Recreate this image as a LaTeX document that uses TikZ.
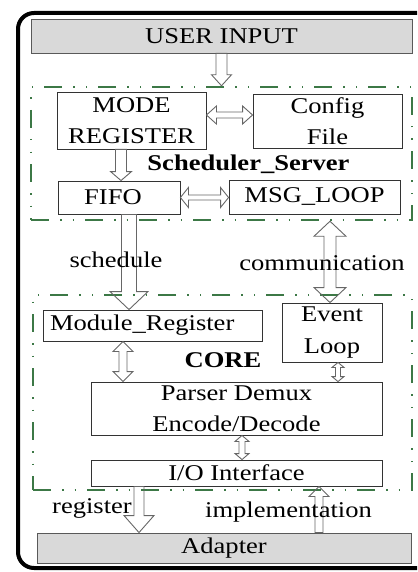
\documentclass[tikz,border=0pt]{standalone}
\usepackage{fontspec}
\setmainfont{Liberation Serif}[FakeStretch=1.18]
\usetikzlibrary{calc}
\definecolor{dgreen}{HTML}{3C7846}
\definecolor{boxgray}{HTML}{D9D9D9}
\newcommand{\dfont}{\fontsize{22.5}{31.5}\selectfont}
\tikzset{
  box/.style={draw=black!80, line width=0.9pt, fill=white, inner sep=0pt, align=center, font=\dfont, text=black},
  graybox/.style={box, fill=boxgray, draw=black!65},
  grp/.style={draw=dgreen, line width=2.5pt, inner sep=0pt,
    dash pattern=on 18pt off 11pt on 1.5pt off 11pt on 1.5pt off 11pt},
  blk/.style={draw=black!60, line width=0.9pt, line join=miter},
  lbl/.style={inner sep=0pt, font=\dfont, anchor=base, text=black},
  frame/.style={draw=black, line width=4pt, rounded corners=16pt},
}
% vertical single block arrow: #1 start (y used), #2 tip (x,y used), #3 shaft half, #4 head half, #5 signed head length
\newcommand{\arrV}[5]{\draw[blk] let \p1=(#1), \p2=(#2) in
  (\x2-#3,\y1) -- (\x2-#3,\y2+#5) -- (\x2-#4,\y2+#5) -- (\x2,\y2) -- (\x2+#4,\y2+#5) -- (\x2+#3,\y2+#5) -- (\x2+#3,\y1) -- cycle;}
% vertical double block arrow: #1 top tip (x,y), #2 bottom tip (y)
\newcommand{\arrVV}[5]{\draw[blk] let \p1=(#1), \p2=(#2) in
  (\x1,\y1) -- (\x1+#4,\y1-#5) -- (\x1+#3,\y1-#5) -- (\x1+#3,\y2+#5) -- (\x1+#4,\y2+#5) -- (\x1,\y2)
  -- (\x1-#4,\y2+#5) -- (\x1-#3,\y2+#5) -- (\x1-#3,\y1-#5) -- (\x1-#4,\y1-#5) -- cycle;}
% horizontal double block arrow: #1 left tip (x,y), #2 right tip (x)
\newcommand{\arrHH}[5]{\draw[blk] let \p1=(#1), \p2=(#2) in
  (\x1,\y1) -- (\x1+#5,\y1+#4) -- (\x1+#5,\y1+#3) -- (\x2-#5,\y1+#3) -- (\x2-#5,\y1+#4) -- (\x2,\y1)
  -- (\x2-#5,\y1-#4) -- (\x2-#5,\y1-#3) -- (\x1+#5,\y1-#3) -- (\x1+#5,\y1-#4) -- cycle;}
\begin{document}
\begin{tikzpicture}[x=1pt,y=-1pt]
\useasboundingbox (0,0) rectangle (417,572);
\begin{scope}
\clip (0,0) rectangle (417,572);
\draw[frame] (422,13) -- (18,13) -- (18,568) -- (422,568);
\end{scope}
% groups
\node[grp, minimum width=381pt, minimum height=133pt] (sched) at (221.5,153.5) {};
\node[grp, minimum width=379pt, minimum height=195pt] (core) at (222.5,392.5) {};
% boxes
\node[graybox, minimum width=381pt, minimum height=34pt] (user) at (221.5,36) {USER INPUT};
\node[box, minimum width=149pt, minimum height=57pt] (mode) at (131.5,120.5) {MODE\\REGISTER};
\node[box, minimum width=149pt, minimum height=54pt] (config) at (327.5,121) {Config\\File};
\node[box, minimum width=122pt, minimum height=33pt] (fifo) at (119,197.5) {\hspace*{-12pt}FIFO};
\node[box, minimum width=171pt, minimum height=34pt] (msg) at (314.5,197) {MSG\_LOOP};
\node[box, minimum height=31pt, text width=205pt, inner xsep=7pt, align=left] (modreg) at (152.5,325.5) {Module\_Register};
\node[box, minimum width=100pt, minimum height=59pt] (event) at (332,332.5) {Event\\Loop};
\node[box, minimum width=291pt, minimum height=53pt] (parser) at (236.5,408.5) {Parser Demux\\Encode/Decode};
\node[box, minimum width=291pt, minimum height=26pt] (io) at (236.5,473) {I/O Interface};
\node[graybox, minimum width=374pt, minimum height=30pt] (adapter) at (224,548) {Adapter};
% helper coordinates
\coordinate (c2) at ([xshift=-10.5pt]mode.south);
\coordinate (c3) at ([yshift=5.5pt]mode.east);
\coordinate (c5) at ([xshift=10pt]fifo.south);
\coordinate (c6) at ([xshift=15.5pt]msg.south);
\coordinate (c7) at ([xshift=-29.5pt]modreg.south);
\coordinate (c8) at ([xshift=6pt]event.south);
\coordinate (c9) at ([xshift=5.5pt]parser.south);
\coordinate (c10) at ([xshift=20pt]fifo.south |- io.south);
\coordinate (c11) at ([xshift=82.5pt]io.south);
% arrows
\arrV{user.south}{user.south |- sched.north}{5.5pt}{10pt}{11pt}
\arrV{c2}{c2 |- fifo.north}{5.5pt}{10.5pt}{9pt}
\arrHH{c3}{config.west}{3pt}{9pt}{10pt}
\arrHH{fifo.east}{msg.west}{2.5pt}{10pt}{8pt}
\arrV{c5}{c5 |- modreg.north}{7.5pt}{19pt}{18pt}
\arrVV{c6 |- sched.south}{c6 |- event.north}{6pt}{16pt}{15pt}
\arrVV{c7}{c7 |- parser.north}{4pt}{10pt}{10pt}
\arrVV{c8}{c8 |- parser.north}{2.5pt}{6pt}{5pt}
\arrVV{c9}{c9 |- io.north}{3pt}{7pt}{6pt}
\arrV{c10}{c10 |- adapter.north}{5pt}{15pt}{17pt}
\arrV{c11 |- adapter.north}{c11}{4pt}{10pt}{-10pt}
% labels
\node[lbl] (ss) at (248.5,170) {\textbf{Scheduler\_Server}};
\node[lbl] (corel) at (223,367) {\textbf{CORE}};
\node[lbl] (sch) at (116,267.5) {schedule};
\node[lbl] (com) at (322,270) {communication};
\node[lbl] (reg) at (92,513) {register};
\node[lbl] (imp) at (288.5,517) {implementation};
\end{tikzpicture}
\end{document}
